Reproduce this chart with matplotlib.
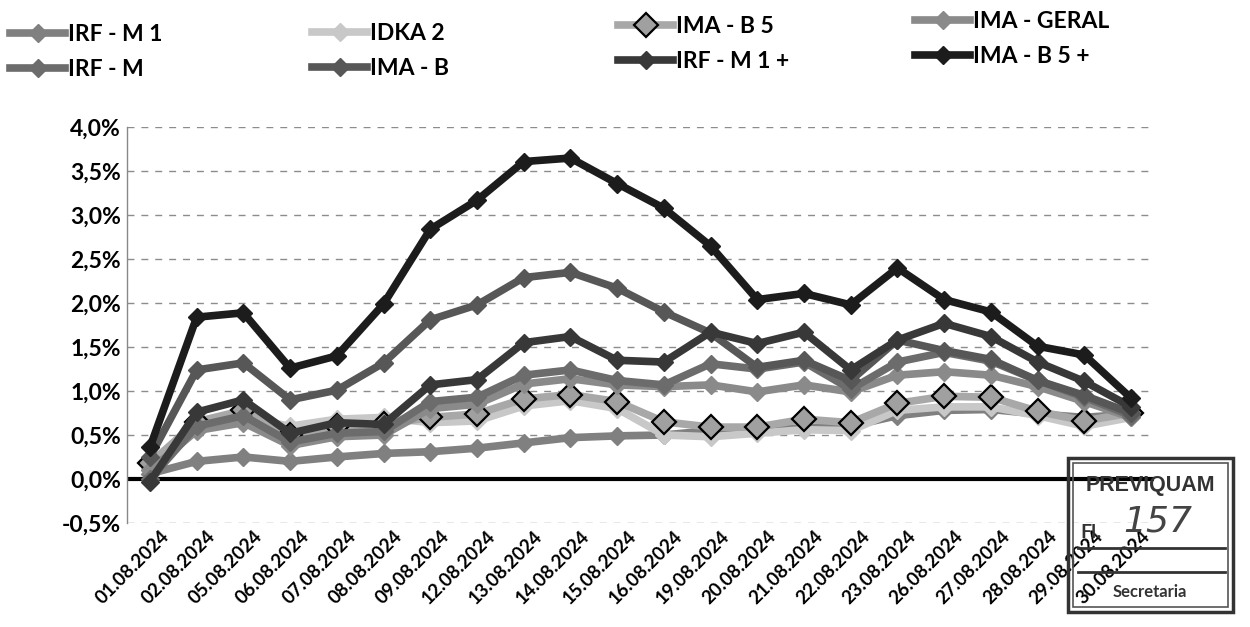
import matplotlib
matplotlib.use("Agg")
import matplotlib.pyplot as plt
import matplotlib.transforms as mtransforms
from matplotlib.patches import Rectangle
from matplotlib.lines import Line2D

dates = ["01.08.2024", "02.08.2024", "05.08.2024", "06.08.2024", "07.08.2024",
         "08.08.2024", "09.08.2024", "12.08.2024", "13.08.2024", "14.08.2024",
         "15.08.2024", "16.08.2024", "19.08.2024", "20.08.2024", "21.08.2024",
         "22.08.2024", "23.08.2024", "26.08.2024", "27.08.2024", "28.08.2024",
         "29.08.2024", "30.08.2024"]

irf_m1 = [0.06, 0.20, 0.25, 0.20, 0.25, 0.29, 0.31, 0.35, 0.41, 0.47, 0.49, 0.50,
          0.55, 0.56, 0.58, 0.60, 0.72, 0.78, 0.79, 0.74, 0.70, 0.74]
idka2 = [0.12, 0.62, 0.70, 0.60, 0.68, 0.70, 0.64, 0.66, 0.83, 0.89, 0.80, 0.50,
         0.48, 0.52, 0.56, 0.55, 0.78, 0.82, 0.82, 0.72, 0.60, 0.70]
ima_b5 = [0.18, 0.65, 0.78, 0.50, 0.60, 0.62, 0.70, 0.74, 0.91, 0.96, 0.88, 0.65,
          0.59, 0.59, 0.68, 0.64, 0.86, 0.94, 0.93, 0.77, 0.66, 0.75]
ima_geral = [0.10, 0.55, 0.64, 0.38, 0.48, 0.50, 0.80, 0.85, 1.08, 1.14, 1.07, 1.05,
             1.07, 0.99, 1.07, 0.99, 1.18, 1.22, 1.18, 1.05, 0.88, 0.70]
irf_m = [0.00, 0.60, 0.72, 0.42, 0.52, 0.54, 0.88, 0.93, 1.18, 1.24, 1.12, 1.07,
         1.31, 1.25, 1.33, 1.02, 1.33, 1.44, 1.34, 1.12, 0.93, 0.72]
ima_b = [0.25, 1.24, 1.32, 0.90, 1.01, 1.32, 1.81, 1.98, 2.29, 2.35, 2.17, 1.90,
         1.66, 1.27, 1.35, 1.12, 1.58, 1.46, 1.36, 1.12, 0.95, 0.75]
irf_m1_plus = [-0.03, 0.76, 0.90, 0.52, 0.64, 0.62, 1.07, 1.13, 1.55, 1.62, 1.35, 1.33,
               1.67, 1.54, 1.67, 1.24, 1.58, 1.77, 1.62, 1.33, 1.11, 0.82]
ima_b5_plus = [0.36, 1.84, 1.89, 1.26, 1.40, 1.99, 2.84, 3.17, 3.61, 3.65, 3.36, 3.08,
               2.65, 2.04, 2.11, 1.98, 2.40, 2.04, 1.90, 1.51, 1.41, 0.92]

names = ["IRF - M 1", "IDKA 2", "IMA - B 5", "IMA - GERAL",
         "IRF - M", "IMA - B", "IRF - M 1 +", "IMA - B 5 +"]
series = [irf_m1, idka2, ima_b5, ima_geral, irf_m, ima_b, irf_m1_plus, ima_b5_plus]
colors = ["#808080", "#c8c8c8", "#a8a8a8", "#8a8a8a",
          "#6c6c6c", "#575757", "#383838", "#1c1c1c"]

yticks = [-0.5, 0.0, 0.5, 1.0, 1.5, 2.0, 2.5, 3.0, 3.5, 4.0]
ytick_labels = [("%.1f%%" % v).replace(".", ",") for v in yticks]

FONT = ["Lato", "DejaVu Sans"]
plt.rcParams["font.family"] = FONT

fig = plt.figure(figsize=(12.5, 6.27), dpi=100)
ax = fig.add_axes([0.1013, 0.166, 0.8222, 0.631])

x = list(range(len(dates)))
handles = {}
for name, vals, col in zip(names, series, colors):
    if name == "IMA - B 5":
        h, = ax.plot(x, vals, color=col, lw=5.5, marker="D", markersize=12,
                     markerfacecolor="#a0a0a0", markeredgecolor="black",
                     markeredgewidth=1.6, solid_joinstyle="miter")
    else:
        h, = ax.plot(x, vals, color=col, lw=5.5, marker="D", markersize=9,
                     markerfacecolor=col, markeredgecolor=col,
                     solid_joinstyle="miter")
    handles[name] = h

ax.axhline(0, color="black", lw=3, zorder=1)
ax.set_ylim(-0.5, 4.0)
ax.set_xlim(-0.5, len(dates) - 0.5)
ax.set_yticks(yticks)
ax.set_yticklabels(ytick_labels, fontsize=16.5, fontweight="bold")
ax.set_xticks(x)
ax.set_xticklabels(dates, rotation=45, ha="right", rotation_mode="anchor",
                   fontsize=13.5, fontweight="bold")
ax.tick_params(axis="both", length=0)
ax.tick_params(axis="x", pad=3)
ax.tick_params(axis="y", pad=4)
offset = mtransforms.ScaledTranslation(10 / 100, 0, fig.dpi_scale_trans)
for lab in ax.get_xticklabels():
    lab.set_transform(lab.get_transform() + offset)
for v in yticks:
    if v != 0.0:
        ax.axhline(v, color="#8c8c8c", lw=1.0, ls=(0, (5, 5)), zorder=0)
for s in ["top", "right", "bottom"]:
    ax.spines[s].set_visible(False)
ax.spines["left"].set_color("#888888")
ax.spines["left"].set_linewidth(1.0)

# legend: four columns of two rows
cols = [("IRF - M 1", "IRF - M", 10, 52),
        ("IDKA 2", "IMA - B", 312, 51),
        ("IMA - B 5", "IRF - M 1 +", 618, 44),
        ("IMA - GERAL", "IMA - B 5 +", 915, 39)]
for a, b, px, py in cols:
    fig.legend(handles=[handles[a], handles[b]], labels=[a, b],
               loc="center left", bbox_to_anchor=(px / 1250, 1 - py / 627),
               frameon=False, borderpad=0, borderaxespad=0,
               handlelength=2.4, handletextpad=0.15, labelspacing=0.6,
               prop={"family": FONT, "weight": "bold", "size": 16.5})

# scanned stamp
x0, y0, w, h = 1068 / 1250, 1 - 612 / 627, 165 / 1250, 154 / 627
fig.add_artist(Rectangle((x0, y0), w, h, transform=fig.transFigure,
                         fill=False, ec="#333333", lw=2.5))
fig.add_artist(Rectangle((x0 + 0.004, y0 + 0.008), w - 0.008, h - 0.016,
                         transform=fig.transFigure, fill=False, ec="#555555", lw=1.2))
fig.text(1150 / 1250, 1 - 486 / 627, "PREVIQUAM", ha="center", va="center",
         fontsize=15.5, fontweight="bold", color="#333333",
         family=["Liberation Sans Narrow", "Liberation Sans", "DejaVu Sans"])
fig.text(1080 / 1250, 1 - 532 / 627, "Fl.", ha="left", va="center",
         fontsize=14, fontweight="bold", color="#333333")
fig.text(1158 / 1250, 1 - 522 / 627, "157", ha="center", va="center",
         fontsize=26, style="italic", color="#444444",
         family=["DejaVu Sans"])
fig.add_artist(Line2D([1078 / 1250, 1225 / 1250], [1 - 548 / 627, 1 - 548 / 627],
                      transform=fig.transFigure, color="#333333", lw=2))
fig.add_artist(Line2D([1078 / 1250, 1225 / 1250], [1 - 572 / 627, 1 - 572 / 627],
                      transform=fig.transFigure, color="#333333", lw=2))
fig.text(1150 / 1250, 1 - 592 / 627, "Secretaria", ha="center", va="center",
         fontsize=12, fontweight="bold", color="#333333")

fig.savefig("out.png", dpi=100, facecolor="white")
